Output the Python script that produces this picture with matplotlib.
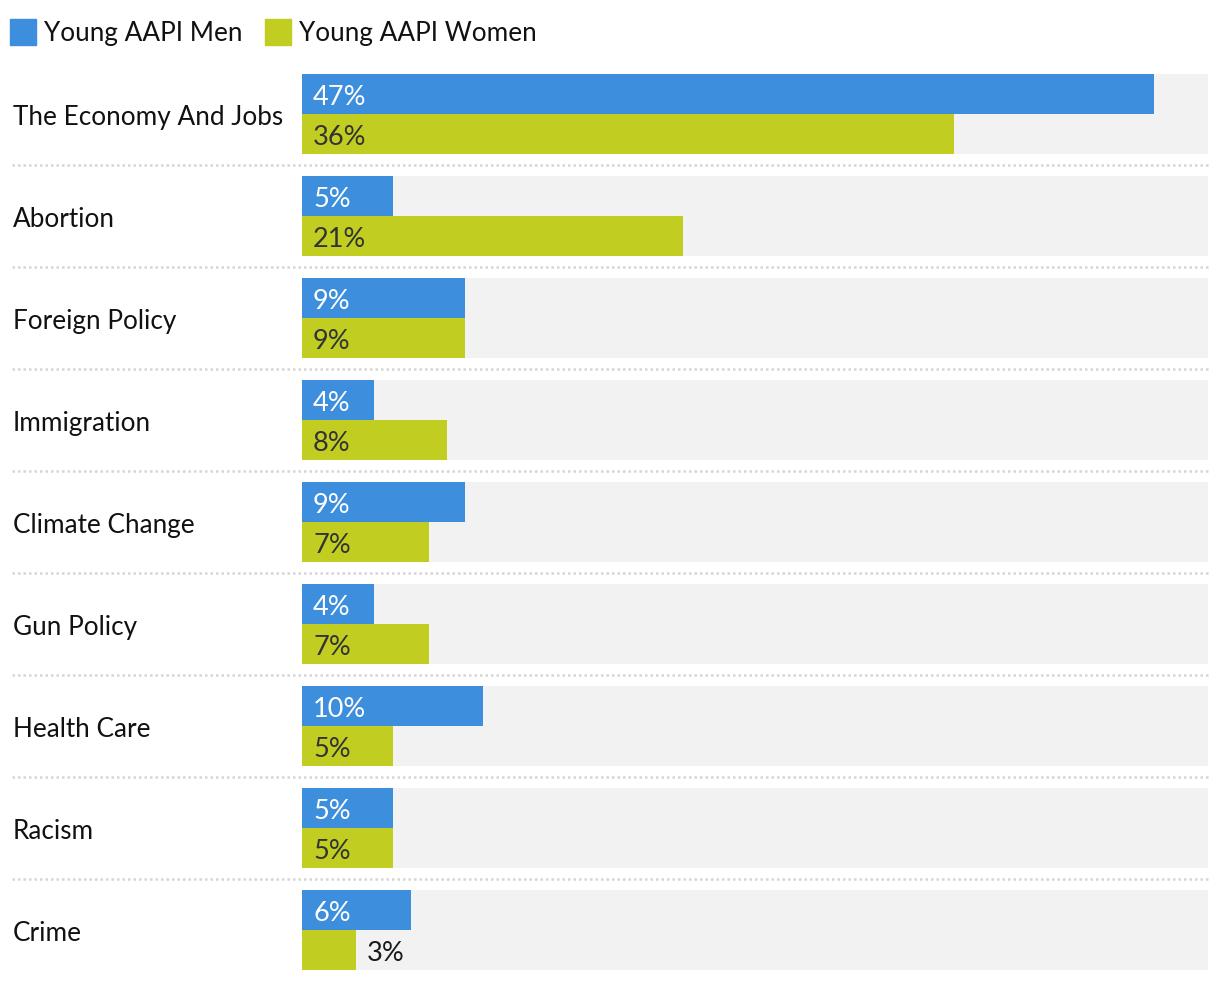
import matplotlib
matplotlib.use("Agg")
import matplotlib.pyplot as plt
import matplotlib.transforms as mtransforms
from matplotlib.patches import Rectangle

# Data
categories = ["The Economy And Jobs", "Abortion", "Foreign Policy", "Immigration",
              "Climate Change", "Gun Policy", "Health Care", "Racism", "Crime"]
men = [47, 5, 9, 4, 9, 4, 10, 5, 6]
women = [36, 21, 9, 8, 7, 7, 5, 5, 3]
series_names = ["Young AAPI Men", "Young AAPI Women"]

BLUE = "#3D8EDC"
GREEN = "#C1CE21"
BG = "#F2F2F2"
FONT = "Lato"
FS = 18.8     # category / legend text
VFS = 19.5    # value labels
DY = -2.5     # small downward nudge for text (points)

W, H = 1220, 982
fig = plt.figure(figsize=(W / 100, H / 100), dpi=100)
ax = fig.add_axes([302 / W, 12 / H, 906 / W, 896 / H])

n = len(categories)
ypos = list(range(n))
bh = 0.392
ax.barh(ypos, [50] * n, height=2 * bh, color=BG, zorder=0)
ax.barh([y - bh / 2 for y in ypos], men, height=bh, color=BLUE, zorder=2)
ax.barh([y + bh / 2 for y in ypos], women, height=bh, color=GREEN, zorder=2)
ax.set_xlim(0, 50)
ax.set_ylim(n - 1 + bh, -bh)
ax.axis("off")

# value labels
for y, m, w in zip(ypos, men, women):
    ax.annotate(f"{m}%", (0, y - bh / 2), xytext=(8, DY), textcoords="offset points",
                va="center", ha="left", color="white", fontsize=VFS, family=FONT)
    if w < 4:
        ax.annotate(f"{w}%", (w, y + bh / 2), xytext=(7.5, DY), textcoords="offset points",
                    va="center", ha="left", color="#1a1a1a", fontsize=VFS, family=FONT)
    else:
        ax.annotate(f"{w}%", (0, y + bh / 2), xytext=(8, DY), textcoords="offset points",
                    va="center", ha="left", color="#333333", fontsize=VFS, family=FONT)

# category labels
trans = mtransforms.blended_transform_factory(fig.transFigure, ax.transData)
for y, c in zip(ypos, categories):
    ax.annotate(c, (13 / W, y), xycoords=trans, xytext=(0, DY), textcoords="offset points",
                va="center", ha="left", fontsize=FS, family=FONT, color="#111111",
                annotation_clip=False)

# dotted separators
for y in ypos[:-1]:
    ax.axhline(y + 0.5, xmin=(12 - 302) / 906, xmax=1, color="#D5D5D5",
               linestyle=(0, (1, 1.2)), linewidth=1.8, clip_on=False)

# legend
for i, (name, col) in enumerate(zip(series_names, [BLUE, GREEN])):
    x0 = [10, 265][i]
    fig.patches.append(Rectangle((x0 / W, 1 - 45 / H), 26 / W, 26 / H,
                                 transform=fig.transFigure, color=col))
    fig.text((x0 + 34) / W, 1 - 33 / H, name, va="center", ha="left",
             fontsize=FS, family=FONT, color="#111111")

fig.savefig("out.png", dpi=100)
